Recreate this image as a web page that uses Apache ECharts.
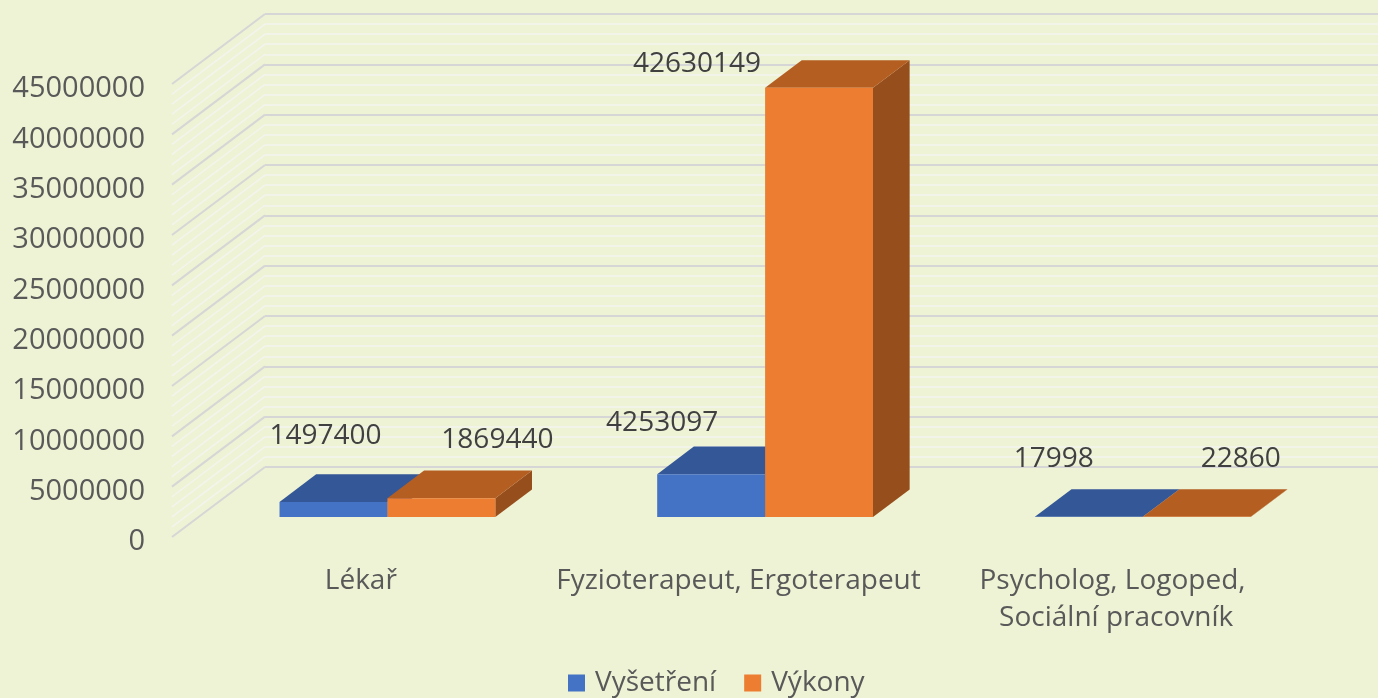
<!DOCTYPE html>
<html>
<head>
<meta charset="utf-8">
<script src="https://cdn.jsdelivr.net/npm/echarts@6/dist/echarts.min.js"></script>
<style>
  html, body { margin: 0; padding: 0; background: #eff3d5; }
  #chart { width: 1378px; height: 698px; }
</style>
</head>
<body>
<div id="chart"></div>
<script>
const categories = ['Lékař', 'Fyzioterapeut, Ergoterapeut', 'Psycholog, Logoped, Sociální pracovník'];
const vysetreni = [1497400, 4253097, 17998];
const vykony = [1869440, 42630149, 22860];
const yMax = 45000000;
const yStep = 5000000;

// oblique "3D" box: offset from front plane to back wall, and where bars sit in depth
const DEPTH = [93, -70];
const BAR_FRONT = 0.286, BAR_BACK = 0.68;
const GAP = 1.5; // excel gap width (x bar width)

// labels were moved by hand in the original, offsets from top-front centre of each bar
const labelShift = [
  [[-8, -66], [-49, -51], [-35, -58]],
  [[56, -58], [-122, -24], [44, -58]]
];

const FONT = '"Open Sans", "Noto Sans", sans-serif';
const chart = echarts.init(document.getElementById('chart'));

function barRenderer(si, front, top, side) {
  return function (params, api) {
    const cat = api.value(0), val = api.value(1);
    const band = api.size([1, 0])[0];
    const barW = band / (2 + GAP);
    const base = api.coord([cat, 0]);
    const peak = api.coord([cat, val]);
    const fx = BAR_FRONT * DEPTH[0], fy = BAR_FRONT * DEPTH[1];
    const dx = (BAR_BACK - BAR_FRONT) * DEPTH[0], dy = (BAR_BACK - BAR_FRONT) * DEPTH[1];
    const x0 = base[0] - barW + si * barW + fx;
    const x1 = x0 + barW;
    const yb = base[1] + fy, yt = peak[1] + fy;
    const sh = labelShift[si][params.dataIndex];
    return {
      type: 'group',
      children: [
        { type: 'polygon', shape: { points: [[x1, yt], [x1 + dx, yt + dy], [x1 + dx, yb + dy], [x1, yb]] }, style: { fill: side } },
        { type: 'polygon', shape: { points: [[x0, yt], [x1, yt], [x1 + dx, yt + dy], [x0 + dx, yt + dy]] }, style: { fill: top } },
        { type: 'rect', shape: { x: x0, y: yt, width: barW, height: Math.max(yb - yt, 0) }, style: { fill: front } },
        {
          type: 'text', x: (x0 + x1) / 2 + sh[0], y: yt + sh[1], z2: 10,
          style: { text: String(val), fill: '#404040', fontSize: 28, fontFamily: FONT, align: 'center', verticalAlign: 'middle' }
        }
      ]
    };
  };
}

const option = {
  backgroundColor: '#eff3d5',
  animation: false,
  legend: {
    data: ['Vyšetření', 'Výkony'],
    top: 664, left: 563,
    icon: 'rect', itemWidth: 17, itemHeight: 17, itemGap: 28,
    textStyle: { color: '#595959', fontSize: 28, fontFamily: FONT, padding: [0, 0, 0, 5] }
  },
  grid: [
    { left: 172, right: 73, top: 84, bottom: 161, outerBoundsMode: 'none' },  // front plane
    { left: 172 + DEPTH[0], right: 0, top: 84 + DEPTH[1], bottom: 161 - DEPTH[1], outerBoundsMode: 'none' }  // back wall
  ],
  xAxis: [
    {
      type: 'category', gridIndex: 0, data: categories,
      axisLine: { show: false }, axisTick: { show: false },
      axisLabel: {
        interval: 0, color: '#595959', fontSize: 28, fontFamily: FONT, margin: 26,
        lineHeight: 37, width: 376, overflow: 'break'
      }
    },
    { type: 'category', gridIndex: 1, data: categories, show: false }
  ],
  yAxis: [
    {
      type: 'value', gridIndex: 0, min: 0, max: yMax, interval: yStep,
      axisLine: { show: false }, axisTick: { show: false }, splitLine: { show: false },
      axisLabel: {
        margin: 27,
        formatter: v => '{t|' + v + '}',
        rich: { t: { color: '#595959', fontSize: 29, fontFamily: FONT, padding: [10, 0, 0, 0] } }
      }
    },
    {
      type: 'value', gridIndex: 1, min: 0, max: yMax, interval: yStep,
      axisLine: { show: false }, axisTick: { show: false }, axisLabel: { show: false },
      splitLine: { lineStyle: { color: '#d6d6d6', width: 2 } },
      minorTick: { show: false, splitNumber: 5 },
      minorSplitLine: { show: true, lineStyle: { color: '#f4f4ef', width: 1.5 } }
    }
  ],
  series: [
    {
      // side wall grid lines
      type: 'custom', xAxisIndex: 0, yAxisIndex: 0, silent: true, z: 1,
      data: [[0, 0]],
      renderItem: function (params, api) {
        const cs = params.coordSys;
        const children = [];
        const minor = yStep / 5;
        for (let v = 0; v <= yMax; v += minor) {
          const y = api.coord([0, v])[1];
          const major = v % yStep === 0;
          children.push({
            type: 'polyline',
            shape: { points: [[cs.x, y], [cs.x + DEPTH[0], y + DEPTH[1]]] },
            style: { stroke: major ? '#d6d6d6' : '#f4f4ef', lineWidth: major ? 2 : 1.5, fill: null }
          });
        }
        return { type: 'group', children: children };
      }
    },
    {
      name: 'Vyšetření', type: 'custom', xAxisIndex: 0, yAxisIndex: 0, z: 3,
      itemStyle: { color: '#4472c4' },
      data: vysetreni.map((v, i) => [i, v]),
      renderItem: barRenderer(0, '#4472c4', '#335797', '#2a4a82')
    },
    {
      name: 'Výkony', type: 'custom', xAxisIndex: 0, yAxisIndex: 0, z: 4,
      itemStyle: { color: '#ed7d31' },
      data: vykony.map((v, i) => [i, v]),
      renderItem: barRenderer(1, '#ed7d31', '#b45e22', '#964e1c')
    }
  ]
};
chart.setOption(option);
</script>
</body>
</html>
